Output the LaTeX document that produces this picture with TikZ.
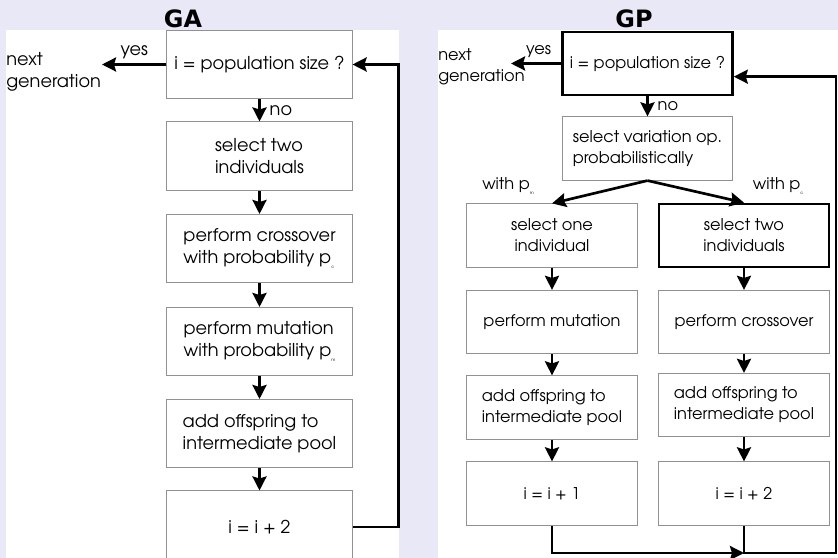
\documentclass[tikz,border=0pt]{standalone}
\usepackage{fontspec}
\usetikzlibrary{calc, arrows.meta}
\newfontfamily\avant{TeX Gyre Adventor}
\newfontfamily\titlefont{DejaVu Sans}
\definecolor{panelbg}{RGB}{232,232,246}
\definecolor{boxgray}{RGB}{145,145,145}
\newcommand{\psub}[1]{p\raisebox{-0.6ex}{\fontsize{3}{3}\selectfont #1}}

\begin{document}
\begin{tikzpicture}[x=0.025cm, y=-0.025cm,
    every node/.style={font=\avant\fontsize{12.6}{15.6}\selectfont},
    gptext/.style={font=\avant\fontsize{11.5}{15}\selectfont},
    box/.style={draw=boxgray, line width=0.7pt, fill=white, inner sep=0pt},
    gabox/.style={box, align=left, minimum width=4.625cm, minimum height=1.7cm},
    gpbox/.style={box, gptext, align=center, minimum width=4.25cm, minimum height=1.58cm},
    strong/.style={draw=black, line width=1.8pt},
    flow/.style={line width=1.9pt, -{Stealth[width=10pt,length=10pt,inset=1.5pt]}},
    ]
    \clip (0,0) rectangle (838,558);
    \fill[panelbg] (0,0) rectangle (838,558);
    \fill[white] (6,30) rectangle (399,558);
    \fill[white] (438,30) rectangle (838,558);

    \node[font=\titlefont\bfseries\fontsize{17}{17}\selectfont] (gaTitle) at (183,19) {GA};
    \node[font=\titlefont\bfseries\fontsize{17}{17}\selectfont] (gpTitle) at (634,19) {GP};

    \node[gabox] (gaQ) at (259.5,64.5) {i = population size ?};
    \node[gabox] (gaSel) at (259.5,156) {select two\\individuals};
    \node[gabox] (gaCross) at (259.5,248.5) {perform crossover\\with probability \psub{c}};
    \node[gabox] (gaMut) at (259.5,341.5) {perform mutation\\with probability \psub{m}};
    \node[gabox] (gaAdd) at (259.5,433.5) {add offspring to\\intermediate pool};
    \node[gabox, minimum height=1.8cm] (gaInc) at (259.5,527) {i = i + 2};
    \node[anchor=west, align=left, inner sep=0pt] (gaNext) at (6,72) {next\\generation};
    \coordinate (gaOut) at (102,0);

    \draw[flow] (gaQ.west) -- (gaQ.west -| gaOut) node[midway, above] {yes};
    \draw[flow] (gaQ) -- (gaSel) node[midway, right, xshift=3pt] {no};
    \draw[flow] (gaSel) -- (gaCross);
    \draw[flow] (gaCross) -- (gaMut);
    \draw[flow] (gaMut) -- (gaAdd);
    \draw[flow] (gaAdd) -- (gaInc);
    \draw[flow] (gaInc.east) -- ++(46,0) |- (gaQ.east);

    \node[gpbox, strong] (gpQ) at (647.5,63.5) {i = population size ?};
    \node[gpbox, align=left] (gpOp) at (647.5,148.5) {select variation op.\\probabilistically};
    \node[gpbox] (gpOne) at (552,235.5) {select one\\individual};
    \node[gpbox, strong] (gpTwo) at (744,235.5) {select two\\individuals};
    \node[gpbox] (gpMut) at (552,322) {perform mutation};
    \node[gpbox] (gpCross) at (744,322) {perform crossover};
    \node[gpbox, align=left] (gpAddL) at (552,407.5) {add offspring to\\intermediate pool};
    \node[gpbox, align=left] (gpAddR) at (744,405) {add offspring to\\intermediate pool};
    \node[gpbox] (gpIncL) at (552,493.5) {i = i + 1};
    \node[gpbox] (gpIncR) at (744,493.5) {i = i + 2};
    \node[gptext, anchor=west, align=left, inner sep=0pt] (gpNext) at (438,67) {next\\generation};
    \node[gptext] (gpPm) at (508,186) {with \psub{m}};
    \node[gptext] (gpPc) at (778,186) {with \psub{c}};
    \coordinate (gpOut) at (511,0);
    \coordinate (gpJoin) at (744,553);
    \coordinate (gpCorner) at (836,553);

    \draw[flow] (gpQ.west) -- (gpQ.west -| gpOut) node[gptext, pos=0.45, above] {yes};
    \draw[flow] (gpQ) -- (gpOp) node[gptext, midway, right, xshift=3pt] {no};
    \draw[flow] (gpOp.south) -- (gpOne.north);
    \draw[flow] (gpOp.south) -- (gpTwo.north);
    \draw[flow] (gpOne) -- (gpMut);
    \draw[flow] (gpTwo) -- (gpCross);
    \draw[flow] (gpMut) -- (gpAddL);
    \draw[flow] (gpCross) -- (gpAddR);
    \draw[flow] (gpAddL) -- (gpIncL);
    \draw[flow] (gpAddR) -- (gpIncR);
    \draw[flow] (gpIncL.south) |- (gpJoin);
    \draw[flow] (gpIncR.south) |- (gpCorner) |- ($(gpQ.south east)!0.3!(gpQ.north east)$);
\end{tikzpicture}
\end{document}
